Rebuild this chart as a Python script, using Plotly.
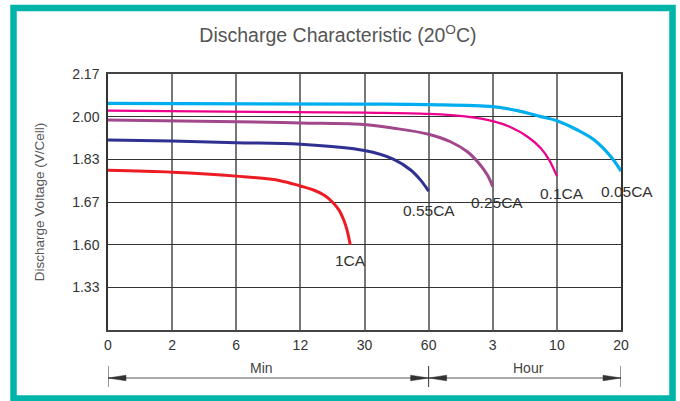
import numpy as np
import plotly.graph_objects as go

# ---- axis ticks ----
x_tick_labels = ["0", "2", "6", "12", "30", "60", "3", "10", "20"]
x_tick_minutes = [0, 2, 6, 12, 30, 60, 180, 600, 1200]
y_tick_labels = ["1.33", "1.60", "1.67", "1.83", "2.00", "2.17"]
y_tick_values = [1.33, 1.60, 1.67, 1.83, 2.00, 2.17]

# ---- series (time in minutes, voltage in V/cell) ----
series_names = ["1CA", "0.55CA", "0.25CA", "0.1CA", "0.05CA"]
t_1ca = [0, 2, 6, 10.1, 12, 15.7, 18.6, 20.9, 22.8, 24.2, 25.1, 26.0]
v_1ca = [1.789, 1.782, 1.767, 1.750, 1.730, 1.715, 1.696, 1.671, 1.657, 1.640, 1.624, 1.600]
t_055ca = [0, 2, 6, 12, 30, 43.7, 51.6, 56.25, 60]
v_055ca = [1.907, 1.903, 1.896, 1.890, 1.865, 1.830, 1.790, 1.752, 1.711]
t_025ca = [0, 6, 12, 28.9, 43.7, 60, 101, 132.6, 154, 170, 180]
v_025ca = [1.987, 1.980, 1.975, 1.970, 1.954, 1.930, 1.900, 1.860, 1.815, 1.771, 1.727]
t_01ca = [0, 30, 60, 132, 180, 298, 408, 495, 550, 600]
v_01ca = [2.024, 2.016, 2.011, 2.000, 1.982, 1.958, 1.920, 1.874, 1.827, 1.767]
t_005ca = [0, 30, 60, 180, 342, 495, 600, 792, 950, 1106, 1200]
v_005ca = [2.053, 2.050, 2.048, 2.040, 2.024, 2.000, 1.984, 1.947, 1.907, 1.840, 1.786]

series_t = [t_1ca, t_055ca, t_025ca, t_01ca, t_005ca]
series_v = [v_1ca, v_055ca, v_025ca, v_01ca, v_005ca]
colors = ["#ED1C24", "#2E3192", "#A1488C", "#EC008C", "#00AEEF"]
widths = [3, 3, 3, 2.2, 3.2]
label_shift = [(0, -5), (0, -9), (4, -5), (5, -7), (6, -10)]

x_idx = list(range(len(x_tick_minutes)))
y_idx = list(range(1, len(y_tick_values) + 1))


def xpos(t):
    return np.interp(t, x_tick_minutes, x_idx)


def ypos(v):
    return np.interp(v, y_tick_values, y_idx)


fig = go.Figure()
FONT = "Liberation Sans, Arial, sans-serif"

for name, t, v, c, w, (dx, dy) in zip(series_names, series_t, series_v, colors, widths, label_shift):
    xs = xpos(np.array(t))
    ys = ypos(np.array(v))
    fig.add_trace(go.Scatter(x=xs, y=ys, mode="lines", name=name,
                             line=dict(color=c, width=w, shape="spline", smoothing=1.0),
                             hoverinfo="skip"))
    fig.add_annotation(x=xs[-1], y=ys[-1], text=name, showarrow=False,
                       xanchor="center", yanchor="top", xshift=dx, yshift=dy,
                       font=dict(family=FONT, size=15.5, color="#333333"))

W, H = 680, 401
L, R, T, B = 108, 59, 74, 71
pw, ph = W - L - R, H - T - B


def px_x(p):
    return (p - L) / pw


def px_y(p):
    return (H - B - p) / ph


shapes = []
# outer teal frame
shapes.append(dict(type="rect", xref="paper", yref="paper",
                   x0=px_x(13.5), x1=px_x(672.5), y0=px_y(398.5), y1=px_y(8),
                   line=dict(color="#00B4A8", width=6.5), layer="below"))
# bottom range arrows
ya = px_y(378)
hh = 2.8 / ph
al = 18 / (pw / 8)
for x0, x1 in [(0, 5), (5, 8)]:
    shapes.append(dict(type="line", xref="x", yref="paper", x0=x0, x1=x1, y0=ya, y1=ya,
                       line=dict(color="#555555", width=1)))
    shapes.append(dict(type="path", xref="x", yref="paper",
                       path=f"M {x0},{ya} L {x0 + al},{ya + hh} L {x0 + al},{ya - hh} Z",
                       fillcolor="#333333", line=dict(color="#333333", width=0.5)))
    shapes.append(dict(type="path", xref="x", yref="paper",
                       path=f"M {x1},{ya} L {x1 - al},{ya + hh} L {x1 - al},{ya - hh} Z",
                       fillcolor="#333333", line=dict(color="#333333", width=0.5)))
for xv in [0, 5, 8]:
    shapes.append(dict(type="line", xref="x", yref="paper", x0=xv, x1=xv,
                       y0=px_y(366), y1=px_y(387), line=dict(color="#333333", width=1)))

fig.add_annotation(x=2.4, y=px_y(368), xref="x", yref="paper", text="Min", showarrow=False,
                   yanchor="middle", font=dict(family=FONT, size=14, color="#444444"))
fig.add_annotation(x=6.56, y=px_y(368), xref="x", yref="paper", text="Hour", showarrow=False,
                   yanchor="middle", font=dict(family=FONT, size=14, color="#444444"))

fig.update_layout(
    width=W, height=H,
    margin=dict(l=L, r=R, t=T, b=B, pad=0),
    paper_bgcolor="white", plot_bgcolor="white",
    showlegend=False,
    shapes=shapes,
    title=dict(text="Discharge Characteristic (20<sup>O</sup>C)", x=0.497, xanchor="center",
               y=1 - 35 / H, yanchor="middle",
               font=dict(family=FONT, size=19.5, color="#555555")),
    xaxis=dict(range=[0, 8], tickvals=x_idx, ticktext=x_tick_labels,
               showgrid=True, gridcolor="#777777", gridwidth=1.5,
               showline=True, mirror=True, linecolor="#444444", linewidth=1.5,
               ticks="outside", ticklen=1, tickcolor="rgba(0,0,0,0)",
               tickfont=dict(family=FONT, size=14, color="#333333"),
               zeroline=False, fixedrange=True),
    yaxis=dict(range=[0, 6], tickvals=y_idx, ticktext=y_tick_labels,
               showgrid=True, gridcolor="#333333", gridwidth=1,
               showline=True, mirror=True, linecolor="#333333", linewidth=1.5,
               ticks="outside", ticklen=4, tickcolor="rgba(0,0,0,0)",
               tickfont=dict(family=FONT, size=14, color="#333333"),
               title=dict(text="Discharge Voltage (V/Cell)", standoff=24,
                          font=dict(family=FONT, size=13.5, color="#555555")),
               zeroline=False, fixedrange=True),
)

fig.write_html("out.html", config={"displayModeBar": False},
               post_script="document.body.style.margin='0px';")
